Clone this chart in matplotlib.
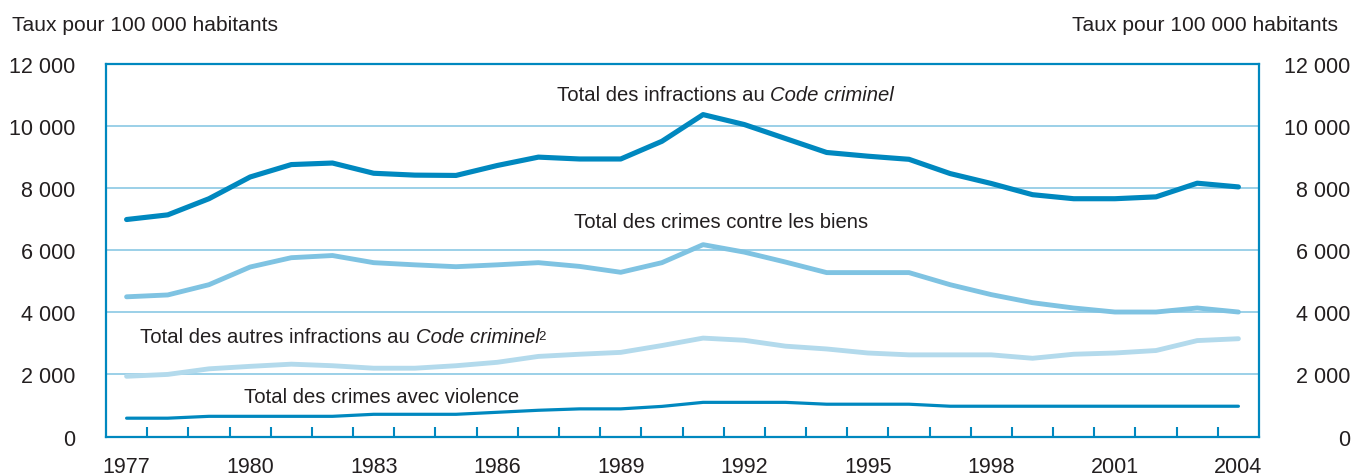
import matplotlib
matplotlib.use("Agg")
import matplotlib.pyplot as plt
from matplotlib.ticker import FixedLocator

years = list(range(1977, 2005))
total_code = [6990, 7140, 7660, 8360, 8760, 8810, 8480, 8420, 8410, 8730, 9000, 8940, 8940, 9510,
              10370, 10050, 9600, 9150, 9030, 8930, 8470, 8150, 7790, 7660, 7660, 7720, 8160, 8040]
property_crimes = [4500, 4560, 4890, 5460, 5760, 5830, 5600, 5530, 5470, 5530, 5600, 5480, 5290, 5600,
                   6180, 5940, 5620, 5280, 5280, 5280, 4890, 4570, 4310, 4140, 4010, 4010, 4140, 4010]
other_code = [1940, 2000, 2180, 2260, 2330, 2280, 2200, 2200, 2280, 2390, 2580, 2650, 2710, 2930,
              3170, 3100, 2910, 2820, 2690, 2630, 2630, 2630, 2520, 2650, 2690, 2770, 3090, 3150]
violent = [590, 590, 650, 650, 650, 650, 715, 715, 715, 780, 845, 890, 890, 970,
           1100, 1100, 1100, 1040, 1040, 1040, 975, 975, 975, 975, 975, 975, 975, 975]

xtick_years = [1977, 1980, 1983, 1986, 1989, 1992, 1995, 1998, 2001, 2004]
yticks = [0, 2000, 4000, 6000, 8000, 10000, 12000]
ytick_labels = ["0", "2 000", "4 000", "6 000", "8 000", "10 000", "12 000"]

label_total = "Total des infractions au"
label_property = "Total des crimes contre les biens"
label_other = "Total des autres infractions au"
label_violent = "Total des crimes avec violence"
italic_part = "Code criminel"
header = "Taux pour 100 000 habitants"

DARK = "#0088BF"
MID = "#7FC3E2"
LIGHT = "#B3DAEC"
GRID = "#80C4E2"
TXT = "#231F20"

LABEL_FONT = ["Liberation Sans", "DejaVu Sans"]
TICK_FONT = ["Liberation Sans", "DejaVu Sans"]
LFS = 14.6
TFS = 15.5

fig = plt.figure(figsize=(13.66, 4.77), dpi=100)
ax = fig.add_axes([106 / 1366, 1 - 437.5 / 477, (1259 - 106) / 1366, (437.5 - 65) / 477])

ax.plot(years, other_code, color=LIGHT, lw=3.5, solid_capstyle="round", zorder=3)
ax.plot(years, property_crimes, color=MID, lw=3.5, solid_capstyle="round", zorder=3)
ax.plot(years, violent, color=DARK, lw=2.3, solid_capstyle="round", zorder=4)
ax.plot(years, total_code, color=DARK, lw=3.7, solid_capstyle="round", zorder=4)

ax.set_xlim(1976.5, 2004.5)
ax.set_ylim(0, 12000)

for v in yticks[1:-1]:
    ax.axhline(v, color=GRID, lw=1.1, zorder=1)

for s in ax.spines.values():
    s.set_color(DARK)
    s.set_linewidth(1.6)

ax.xaxis.set_major_locator(FixedLocator(xtick_years))
ax.xaxis.set_minor_locator(FixedLocator([y + 0.5 for y in years[:-1]]))
ax.set_xticklabels([str(y) for y in xtick_years], family=TICK_FONT, fontsize=TFS, color=TXT)
ax.tick_params(axis="x", which="major", length=0, pad=14)
ax.tick_params(axis="x", which="minor", direction="in", length=7, width=1.5, color=DARK)

ax.set_yticks(yticks)
ax.set_yticklabels(ytick_labels, family=TICK_FONT, fontsize=TFS, color=TXT)
ax.tick_params(axis="y", length=0, pad=22)

ax2 = ax.twinx()
ax2.set_ylim(0, 12000)
ax2.set_yticks(yticks)
ax2.set_yticklabels(ytick_labels, family=TICK_FONT, fontsize=TFS, color=TXT, ha="right")
ax2.tick_params(axis="y", length=0, pad=66)
for s in ax2.spines.values():
    s.set_visible(False)

# series labels
t1 = ax.text(1987.45, 10833, label_total + " ", fontsize=LFS, color=TXT, family=LABEL_FONT, va="baseline")
ax.annotate(italic_part, xy=(1, 0), xycoords=t1, fontsize=LFS, color=TXT, family=LABEL_FONT,
            style="italic", va="bottom", ha="left")
ax.text(1987.86, 6758, label_property, fontsize=LFS, color=TXT, family=LABEL_FONT, va="baseline")
t3 = ax.text(1977.33, 3058, label_other + " ", fontsize=LFS, color=TXT, family=LABEL_FONT, va="baseline")
t4 = ax.annotate(italic_part, xy=(1, 0), xycoords=t3, fontsize=LFS, color=TXT, family=LABEL_FONT,
                 style="italic", va="bottom", ha="left")
ax.annotate("2", xy=(1, 1), xycoords=t4, xytext=(-0.5, -2.5), textcoords="offset points",
            fontsize=9.5, color=TXT, family=LABEL_FONT, va="top", ha="left")
ax.text(1979.85, 1123, label_violent, fontsize=LFS, color=TXT, family=LABEL_FONT, va="baseline")

fig.text(12 / 1366, 1 - 30.7 / 477, header, fontsize=15.1, color=TXT, family=LABEL_FONT,
         ha="left", va="baseline")
fig.text(1338 / 1366, 1 - 30.7 / 477, header, fontsize=15.1, color=TXT, family=LABEL_FONT,
         ha="right", va="baseline")

fig.savefig("out.png", dpi=100)
